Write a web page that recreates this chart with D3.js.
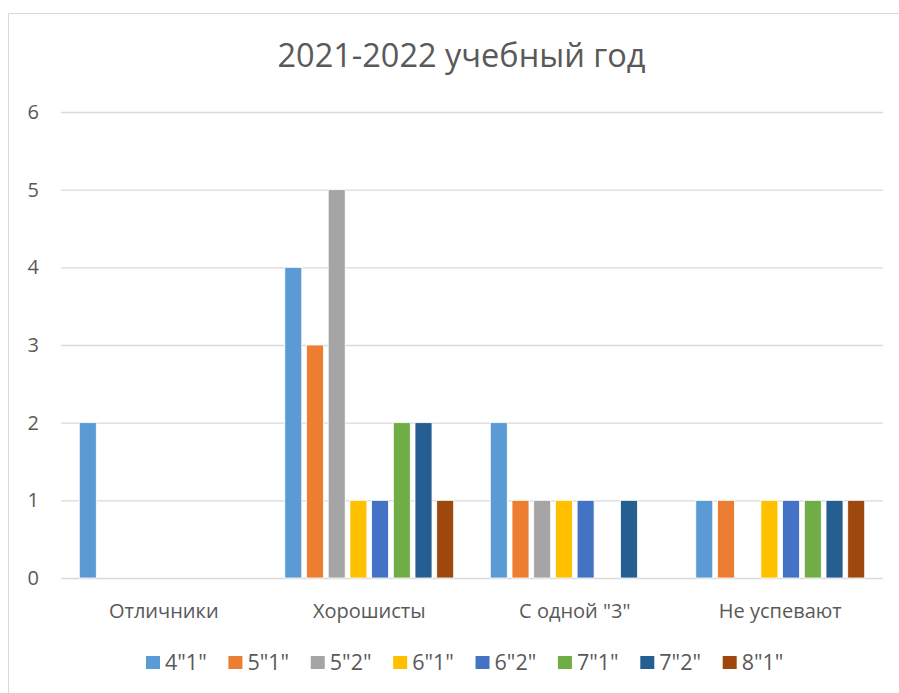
<!DOCTYPE html>
<html><head><meta charset="utf-8">
<script src="https://cdn.jsdelivr.net/npm/d3@7"></script>
<style>
html,body{margin:0;padding:0;background:#fff;}
svg{display:block;font-family:"Open Sans",sans-serif;}
</style></head>
<body><svg id="c" width="899" height="693"></svg>
<script>
const title = "2021-2022 учебный год";
const categories = ["Отличники", "Хорошисты", "С одной \"3\"", "Не успевают"];
const series = ["4\"1\"", "5\"1\"", "5\"2\"", "6\"1\"", "6\"2\"", "7\"1\"", "7\"2\"", "8\"1\""];
const colors = ["#5B9BD5", "#ED7D31", "#A5A5A5", "#FFC000", "#4472C4", "#70AD47", "#255E91", "#9E480E"];
// values[series][category]
const s41 = [2, 4, 2, 1];
const s51 = [0, 3, 1, 1];
const s52 = [0, 5, 1, 0];
const s61 = [0, 1, 1, 1];
const s62 = [0, 1, 1, 1];
const s71 = [0, 2, 0, 1];
const s72 = [0, 2, 1, 1];
const s81 = [0, 1, 0, 1];
const yTicks = [0, 1, 2, 3, 4, 5, 6];

const values = [s41, s51, s52, s61, s62, s71, s72, s81];
const svg = d3.select("#c");
const textColor = "#595959";

// chart frame
svg.append("path").attr("d", "M8.5,693 L8.5,13.5 L899,13.5")
  .attr("fill", "none").attr("stroke", "#d9d9d9").attr("stroke-width", 1);

const L = 61, R = 883, T = 112, B = 578;
const y = d3.scaleLinear().domain([0, 6]).range([B, T]);
const x0 = d3.scaleBand().domain(categories).range([L, R]).padding(0);
const x1 = d3.scaleBand().domain(series).range([0, x0.bandwidth()])
  .paddingInner(0.217).paddingOuter(0.843);

// gridlines + y labels
const yAxis = d3.axisLeft(y).tickValues(yTicks).tickSize(-(R - L)).tickPadding(22).tickFormat(d3.format("d"));
const gy = svg.append("g").attr("transform", `translate(${L},0)`).call(yAxis);
gy.select(".domain").remove();
gy.selectAll(".tick line").attr("stroke", "#d9d9d9").attr("stroke-width", 1.3);
gy.selectAll(".tick text").attr("fill", textColor).style("font-size", "20px")
  .style("font-family", "'Open Sans',sans-serif");

// bars
const bars = [];
categories.forEach((c, ci) => series.forEach((s, si) => {
  const v = values[si][ci];
  if (v > 0) bars.push({c, s, v, color: colors[si]});
}));
svg.append("g").selectAll("rect").data(bars).join("rect")
  .attr("x", d => x0(d.c) + x1(d.s))
  .attr("y", d => y(d.v))
  .attr("width", x1.bandwidth())
  .attr("height", d => y(0) - y(d.v))
  .attr("fill", d => d.color)
  .attr("stroke", "#fff").attr("stroke-width", 0.8);

// category labels
svg.append("g").selectAll("text").data(categories).join("text")
  .attr("x", d => x0(d) + x0.bandwidth() / 2)
  .attr("y", 618)
  .attr("text-anchor", "middle")
  .attr("fill", textColor)
  .style("font-size", "20px")
  .text(d => d);

// title
svg.append("text").attr("x", 461.5).attr("y", 67).attr("text-anchor", "middle")
  .attr("fill", textColor).style("font-size", "32.5px").text(title);

// legend
const lx = d3.scalePoint().domain(series).range([146, 722.7]);
const lg = svg.append("g").selectAll("g").data(series).join("g")
  .attr("transform", d => `translate(${lx(d)},0)`);
lg.append("rect").attr("x", 0).attr("y", 656).attr("width", 14).attr("height", 13)
  .attr("fill", (d, i) => colors[i]);
lg.append("text").attr("x", 19).attr("y", 669.5).attr("fill", textColor)
  .style("font-size", "21.5px").text(d => d);
</script></body></html>
